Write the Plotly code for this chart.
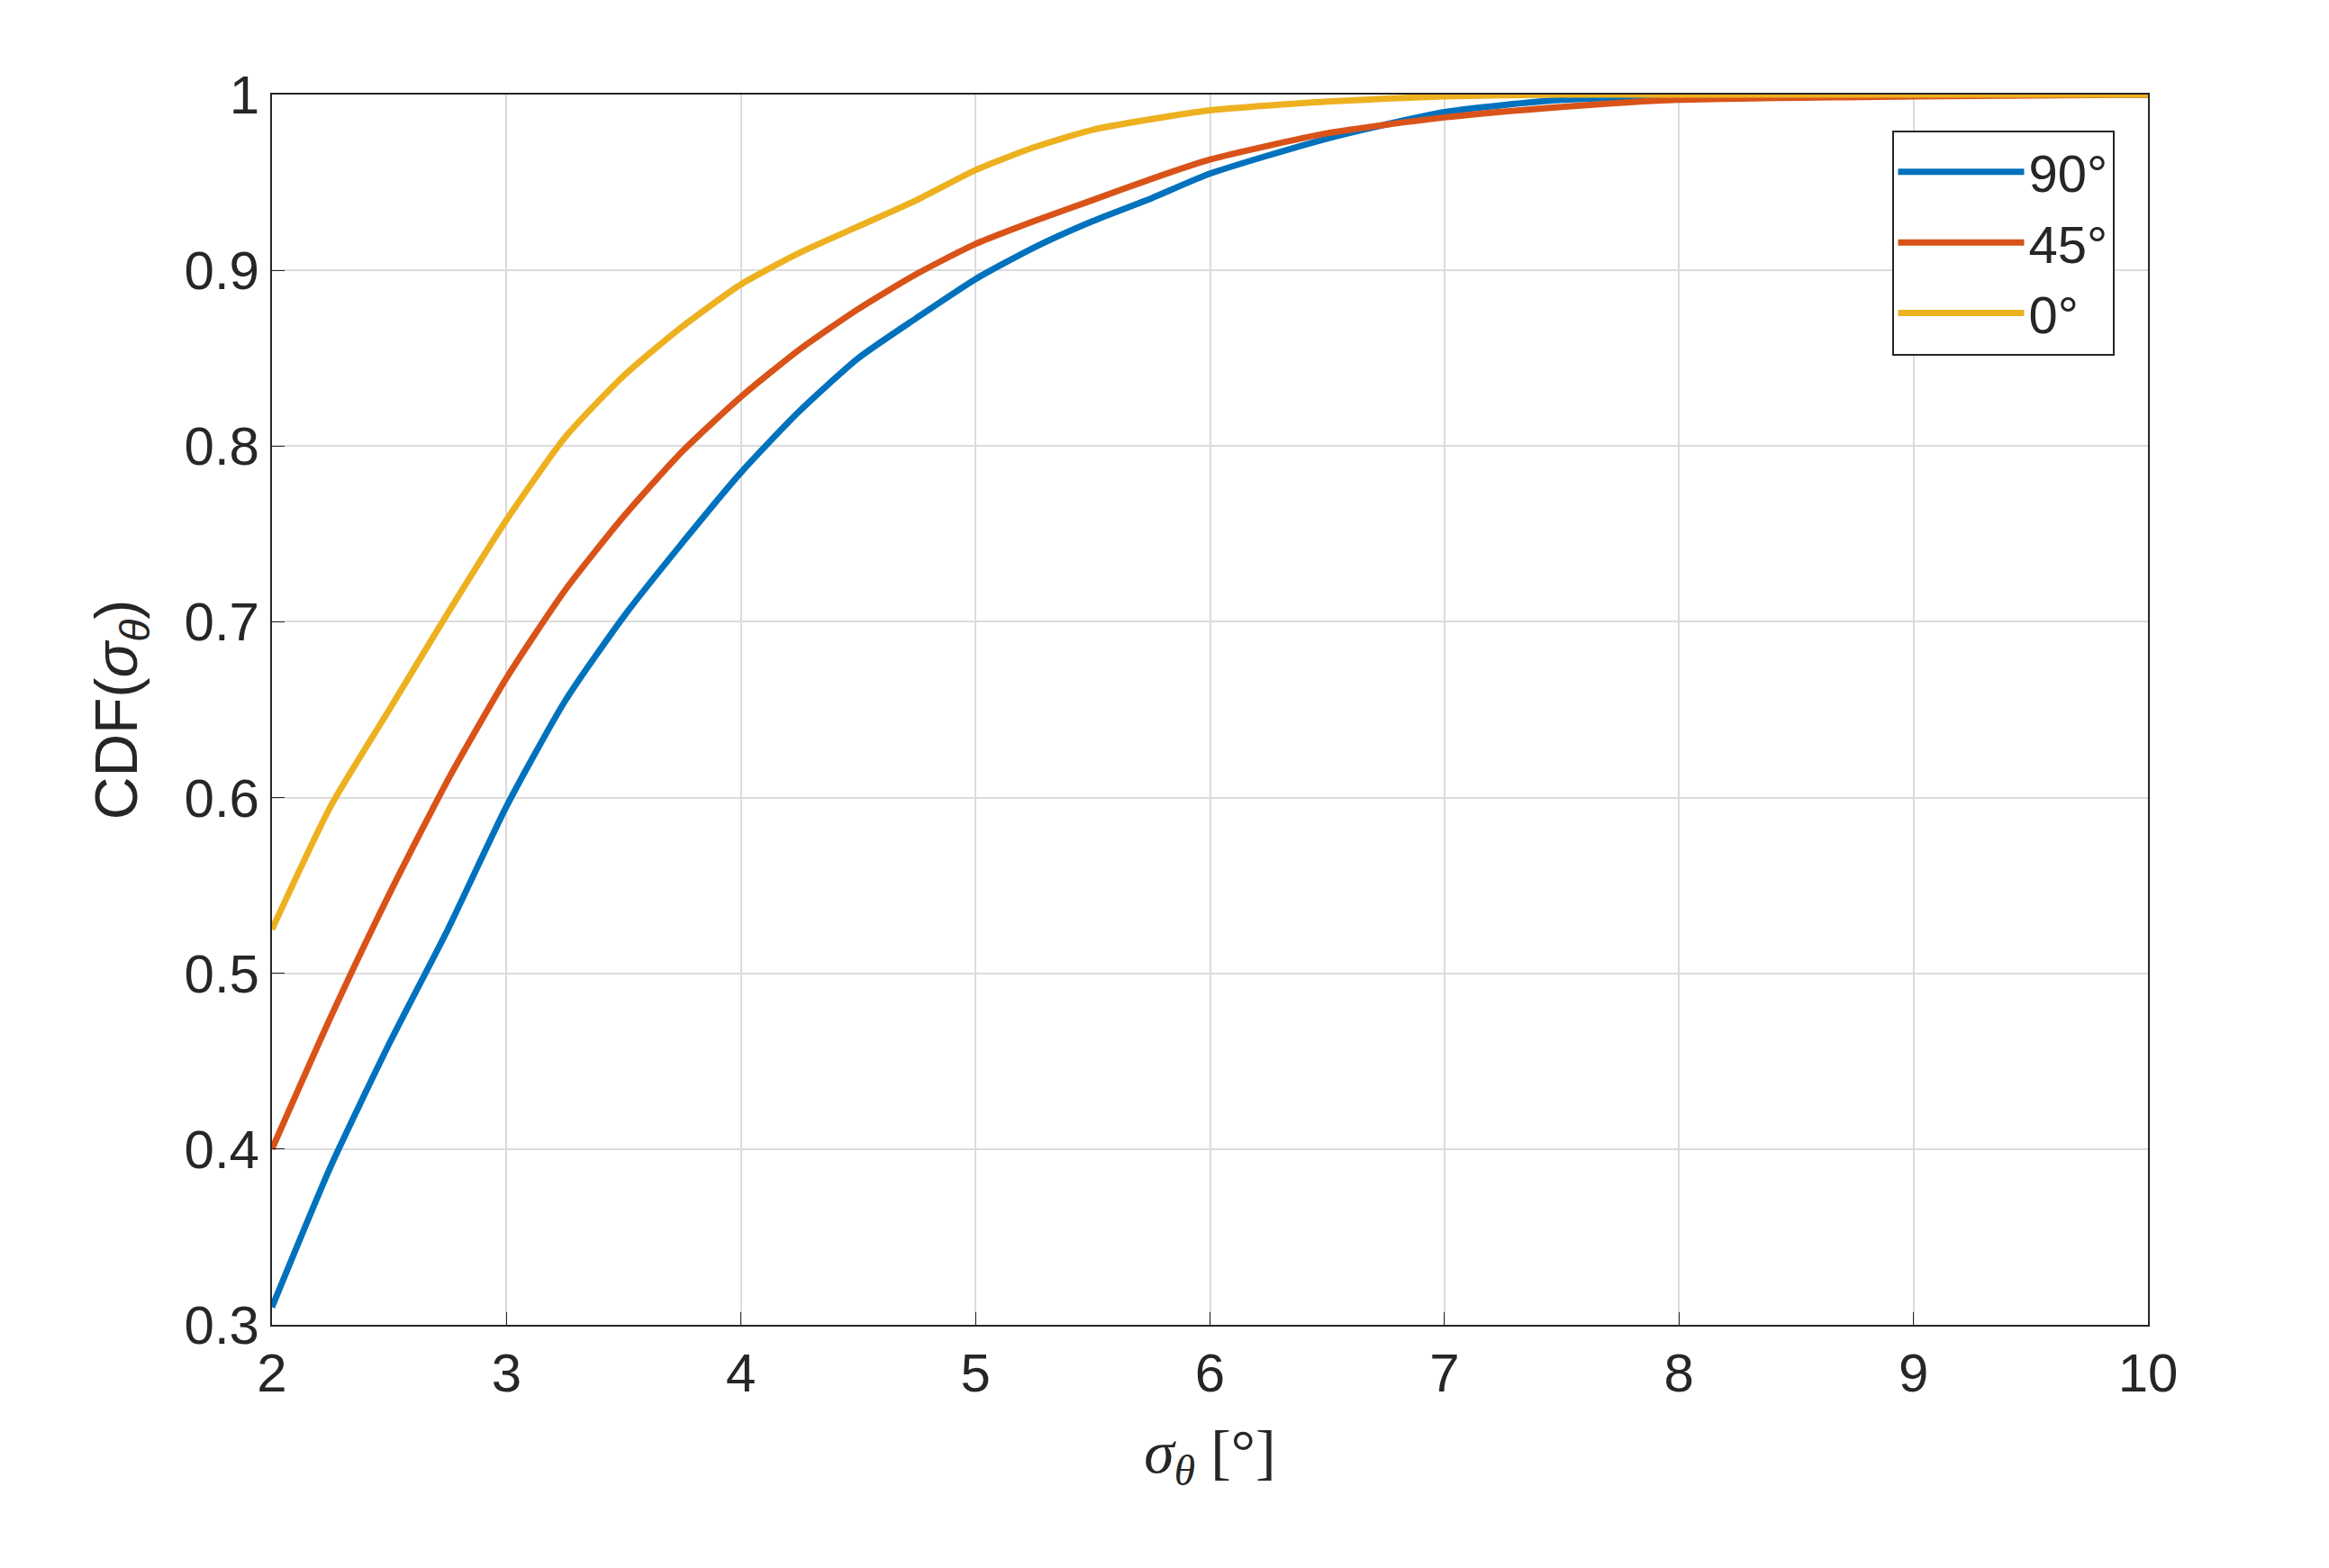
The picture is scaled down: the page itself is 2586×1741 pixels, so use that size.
import plotly.graph_objects as go

x = [2, 2.25, 2.5, 2.75, 3, 3.25, 3.5, 3.75, 4, 4.25, 4.5, 4.75, 5, 5.25, 5.5, 5.75, 6, 6.5, 7, 7.5, 8, 9, 10]
cdf_90 = [0.31, 0.39, 0.46, 0.525, 0.595, 0.655, 0.703, 0.745, 0.785, 0.82, 0.85, 0.873, 0.895, 0.913, 0.928, 0.941, 0.955, 0.975, 0.99, 0.997, 0.999, 1.0, 1.0]
cdf_45 = [0.40, 0.475, 0.545, 0.61, 0.668, 0.718, 0.76, 0.797, 0.828, 0.855, 0.878, 0.898, 0.915, 0.928, 0.94, 0.952, 0.963, 0.978, 0.987, 0.993, 0.997, 0.999, 1.0]
cdf_0 = [0.525, 0.595, 0.65, 0.705, 0.758, 0.805, 0.84, 0.868, 0.892, 0.91, 0.925, 0.94, 0.957, 0.97, 0.98, 0.986, 0.991, 0.996, 0.999, 1.0, 1.0, 1.0, 1.0]
names = ["90°", "45°", "0°"]
colors = ["#0072BD", "#D95319", "#EDB120"]

fig = go.Figure()
for ys, n, c in zip([cdf_90, cdf_45, cdf_0], names, colors):
    fig.add_trace(go.Scatter(x=x, y=ys, name=n, mode="lines", line=dict(color=c, width=7, shape="spline", smoothing=0.6)))

axis_common = dict(showgrid=True, gridcolor="#dcdcdc", gridwidth=2, showline=True, linecolor="#262626",
                   linewidth=2, mirror=True, ticks="inside", ticklen=14, tickcolor="#262626",
                   tickfont=dict(family="Liberation Sans", size=60, color="#262626"), zeroline=False)
fig.update_xaxes(range=[2, 10], dtick=1, title=dict(text="<i>σ</i><sub><i>θ</i></sub> [°]",
                 font=dict(family="Liberation Serif", size=68, color="#262626"), standoff=30), **axis_common)
fig.update_yaxes(range=[0.3, 1], dtick=0.1, tickformat=".1~f",
                 title=dict(text="CDF(<i>σ</i><sub><i>θ</i></sub>)", font=dict(family="Liberation Sans", size=66, color="#262626"), standoff=30),
                 **axis_common)
fig.update_layout(width=2586, height=1741, plot_bgcolor="white", paper_bgcolor="white",
                  margin=dict(l=294, r=209, t=97, b=278),
                  legend=dict(x=0.982, y=0.971, xanchor="right", yanchor="top", bordercolor="#262626",
                              borderwidth=2, bgcolor="white",
                              font=dict(family="Liberation Sans", size=58, color="#262626"),
                              itemwidth=140))
fig.write_html("out.html")
